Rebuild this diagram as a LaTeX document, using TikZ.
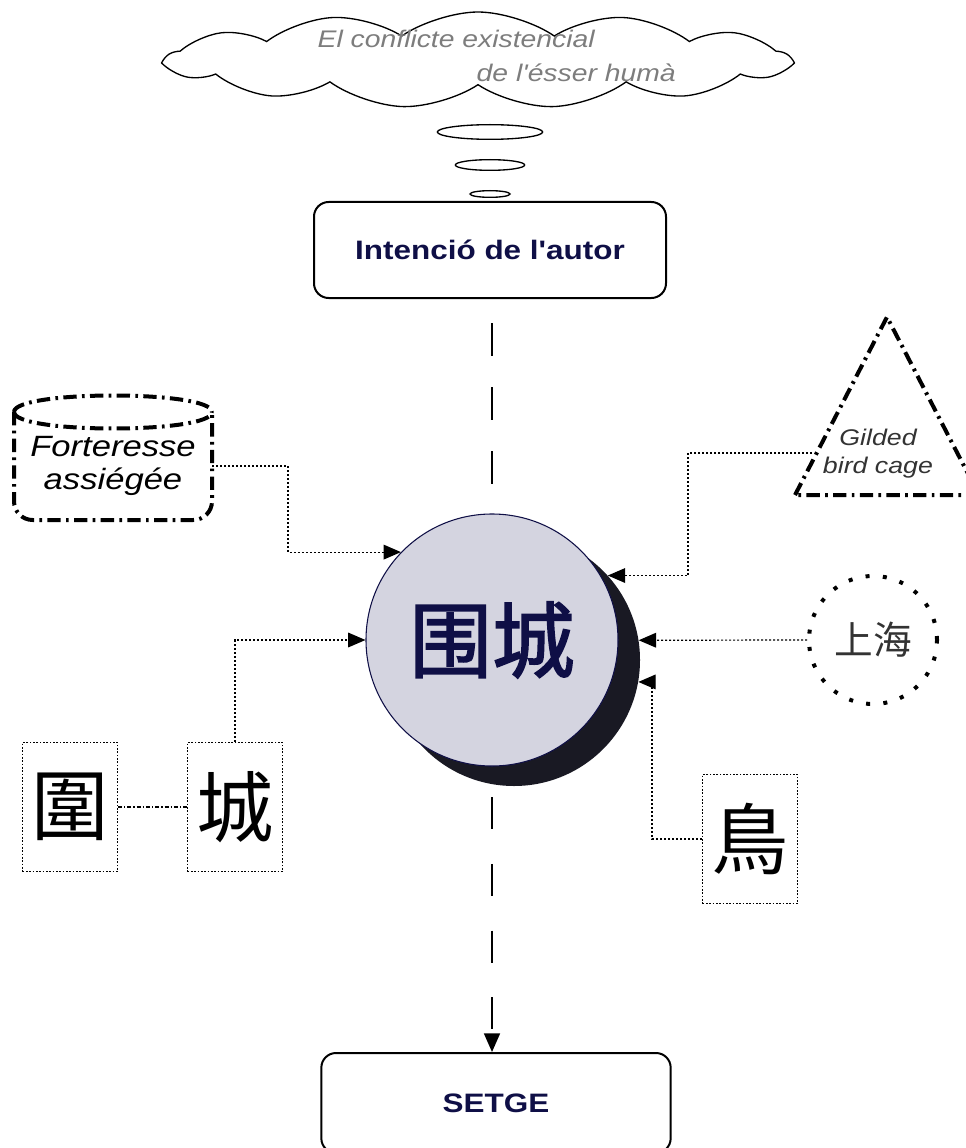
\documentclass[tikz,border=0pt]{standalone}
\usepackage{fontspec}
\setmainfont{Liberation Sans}[FakeStretch=1.18, Ligatures=TeXOff]
\newfontfamily\cjk{Noto Sans CJK SC}
\newfontfamily\cjkbold[FakeBold=2]{Noto Sans CJK SC}
\usetikzlibrary{shapes.symbols,shapes.geometric,arrows.meta,calc}
\definecolor{navy}{RGB}{15,15,70}
\definecolor{cfill}{RGB}{212,212,224}
\definecolor{shad}{RGB}{25,25,35}
\definecolor{cloudtxt}{RGB}{125,125,125}
\begin{document}
\begin{tikzpicture}[x=0.75pt,y=-0.75pt,
  roundbox/.style={draw, line width=1.5pt, rounded corners=11pt, inner sep=0pt,
    font=\bfseries\fontsize{20}{24}\selectfont, text=navy},
  dotbox/.style={draw, line width=1.1pt, dash pattern=on 1.3pt off 1.2pt, inner sep=0pt,
    minimum width=71pt, minimum height=97pt, font=\cjk\fontsize{58}{58}\selectfont},
  conn/.style={line width=0.9pt, dash pattern=on 1.5pt off 1.5pt},
  conndd/.style={line width=0.9pt, dash pattern=on 3pt off 1.5pt on 1pt off 1.5pt},
  tip/.style={-{Triangle[length=13pt,width=11pt]}},
  heavydash/.style={line width=3pt, dash pattern=on 10pt off 4pt on 2pt off 4pt},
  axisline/.style={line width=1.3pt},
  bubble/.style={draw, ellipse, line width=1pt, inner sep=0pt}]
\useasboundingbox (0,0) rectangle (965,1148);

% thought cloud
\node[cloud, draw, cloud puffs=13, cloud puff arc=70, cloud ignores aspect,
  minimum width=467pt, minimum height=72pt, inner sep=0pt, line width=1pt] (cloud) at (478,60) {};
\node[font=\itshape\fontsize{18}{20}\selectfont, text=cloudtxt, anchor=base west] (ct1) at (313,48) {El conflicte existencial};
\node[font=\itshape\fontsize{18}{20}\selectfont, text=cloudtxt, anchor=base west] (ct2) at (472,82) {de l'ésser humà};
\node[bubble, minimum width=79pt, minimum height=11pt] (b1) at (490,132) {};
\node[bubble, minimum width=52pt, minimum height=8pt] (b2) at (490,165) {};
\node[bubble, minimum width=30pt, minimum height=5pt] (b3) at (490,194) {};

% author box
\node[roundbox, minimum width=264pt, minimum height=72pt] (int) at (490,250) {Intenció de l'autor};
% setge box
\node[roundbox, minimum width=262pt, minimum height=75pt] (setge) at (496,1103) {SETGE};

% central circle with shadow
\node[circle, fill=shad, minimum size=189pt, inner sep=0pt] (sh) at (514,660) {};
\node[circle, draw=navy, fill=cfill, line width=0.8pt, minimum size=189pt, inner sep=0pt,
  font=\cjkbold\fontsize{62}{62}\selectfont, text=navy] (c) at (492,640) {围城};

% vertical axis
\draw[axisline, dash pattern=on 25pt off 23pt, dash phase=30pt] (int.south -| c.north) -- (c.north);
\draw[axisline, dash pattern=on 24pt off 26pt, dash phase=27pt, -{Triangle[length=14pt,width=12pt]}] (c.south) -- (setge.north -| c.south);

% Forteresse assiegee
\draw[heavydash, rounded corners=14pt] (14,412) -- (14,520) -- (212,520) -- (212,412);
\draw[heavydash] (14,412) .. controls (14,390) and (212,390) .. (212,412);
\draw[heavydash] (14,412) .. controls (14,434) and (212,434) .. (212,412);
\node[font=\itshape\fontsize{22}{25}\selectfont, align=center] (fort) at (113,466) {Forteresse\\assiégée};
\coordinate (fE) at (212,466);
\coordinate (fbend) at (288,0);
\draw[conn,tip] (fE) -| (fbend |- c.136) -- (c.136);

% Gilded bird cage
\coordinate (tL) at (795,495);
\coordinate (tT) at (887,317);
\coordinate (tR) at (979,495);
\draw[heavydash] (tL) -- (tT) -- (tR) -- cycle;
\node[font=\itshape\fontsize{17}{21}\selectfont, text=black!80, align=center] (gild) at (878,454) {Gilded\\bird cage};
\coordinate (gE) at (812,453);
\coordinate (gbend) at (688,0);
\draw[conn,tip] (gE) -| (gbend |- sh.42) -- (sh.42);

% Shanghai
\node[circle, draw, line width=3pt, dash pattern=on 3pt off 10pt, minimum size=96pt, inner sep=0pt,
  font=\cjk\fontsize{29}{29}\selectfont, text=black!80] (sha) at (873,640) {上海};
\draw[conn,tip] (sha.west) -- (sh.9);

% bird
\node[dotbox] (niao) at (750,839) {鳥};
\coordinate (nbend) at (652,0);
\draw[conn,tip] (niao.west) -| (nbend |- sh.-10.5) -- (sh.-10.5);

% wei / cheng
\node[dotbox] (wei) at (70,807) {圍};
\node[dotbox] (cheng) at (235,807) {城};
\draw[conndd] (wei.east) -- (cheng.west);
\draw[conn,tip] (cheng.north) |- (c.west);
\end{tikzpicture}
\end{document}
